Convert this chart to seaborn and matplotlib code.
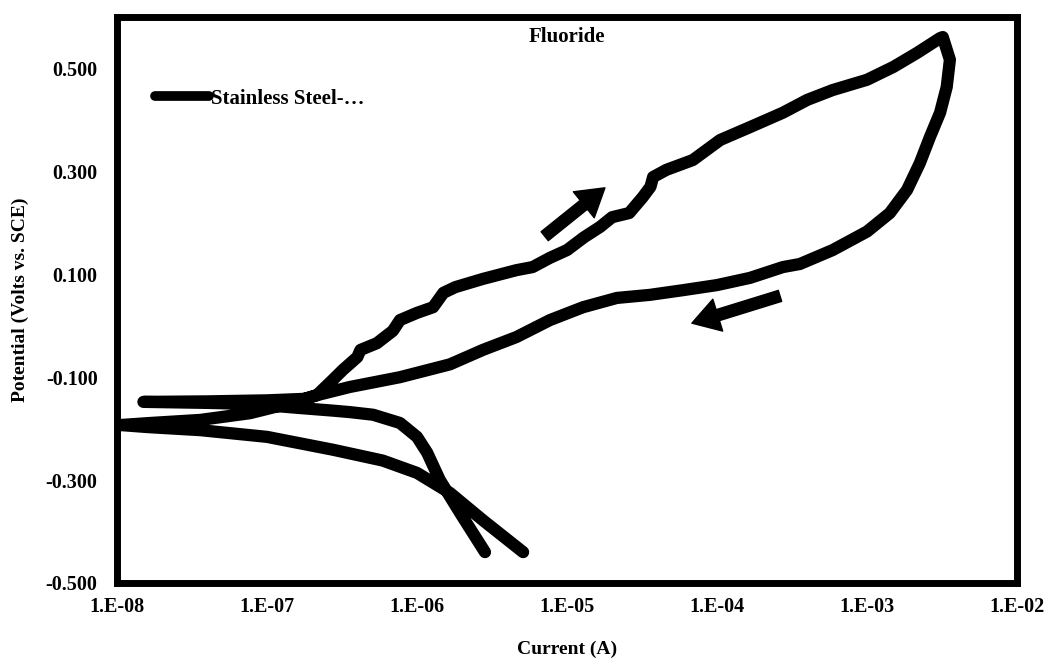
import numpy as np
import pandas as pd
import matplotlib
matplotlib.use("Agg")
import matplotlib.pyplot as plt
from matplotlib.ticker import FixedLocator, FuncFormatter, NullLocator
import seaborn as sns

# ---- data ----
current = [
    # forward scan: cathodic branch
    2.84e-6, 1.94e-6, 1.42e-6, 1.17e-6, 1.0e-6, 7.7e-7, 5.1e-7, 3.6e-7, 2.75e-7, 1.66e-7, 7.7e-8, 4.0e-8, 1.5e-8,
    # forward scan: anodic branch
    4.0e-8, 1.0e-7, 1.8e-7, 2.15e-7, 2.75e-7, 3.2e-7, 4.0e-7, 4.2e-7, 5.4e-7, 6.9e-7, 7.7e-7, 1.0e-6, 1.28e-6,
    1.5e-6, 1.8e-6, 2.75e-6, 4.6e-6, 5.9e-6, 7.7e-6, 1.0e-5, 1.3e-5, 1.66e-5, 2.0e-5, 2.6e-5, 3.2e-5, 3.6e-5,
    3.75e-5, 4.6e-5, 6.9e-5, 1.05e-4, 1.66e-4, 2.75e-4, 4.0e-4, 5.9e-4, 1.0e-3, 1.5e-3, 2.15e-3, 3.07e-3, 3.2e-3,
    # reverse scan
    3.57e-3, 3.4e-3, 3.07e-3, 2.63e-3, 2.25e-3, 1.85e-3, 1.42e-3, 1.0e-3, 5.9e-4, 3.57e-4, 2.75e-4, 1.66e-4,
    1.0e-4, 5.9e-5, 3.57e-5, 2.15e-5, 1.28e-5, 7.7e-6, 4.6e-6, 2.75e-6, 1.66e-6, 7.7e-7, 3.57e-7, 2.15e-7,
    1.28e-7, 7.7e-8, 3.6e-8, 1.66e-8, 1.05e-8,
    # reverse scan: cathodic branch
    1.6e-8, 3.6e-8, 1.0e-7, 2.75e-7, 5.9e-7, 1.0e-6, 1.66e-6, 2.75e-6, 5.1e-6,
]
potential = [
    -0.440, -0.364, -0.300, -0.247, -0.216, -0.189, -0.173, -0.168, -0.165, -0.160, -0.152, -0.150, -0.148,
    -0.147, -0.145, -0.142, -0.135, -0.105, -0.086, -0.061, -0.047, -0.034, -0.010, 0.011, 0.025, 0.036,
    0.064, 0.075, 0.091, 0.108, 0.114, 0.132, 0.147, 0.172, 0.192, 0.211, 0.219, 0.250, 0.270,
    0.289, 0.303, 0.322, 0.361, 0.386, 0.414, 0.439, 0.458, 0.478, 0.503, 0.530, 0.559, 0.561,
    0.517, 0.464, 0.414, 0.367, 0.316, 0.264, 0.219, 0.183, 0.147, 0.120, 0.114, 0.093,
    0.079, 0.069, 0.060, 0.054, 0.036, 0.011, -0.022, -0.047, -0.075, -0.100, -0.119, -0.135,
    -0.154, -0.170, -0.183, -0.189, -0.193,
    -0.197, -0.203, -0.216, -0.241, -0.262, -0.286, -0.325, -0.378, -0.440,
]
series_label = "Stainless Steel-…"
title_text = "Fluoride"
x_ticks = [1e-8, 1e-7, 1e-6, 1e-5, 1e-4, 1e-3, 1e-2]
y_ticks = [-0.5, -0.3, -0.1, 0.1, 0.3, 0.5]
# scan-direction arrows: (tail current, tail potential) -> (head current, head potential)
arrow_tails = [(7.1e-6, 0.174), (2.63e-4, 0.058)]
arrow_heads = [(1.79e-5, 0.268), (6.8e-5, 0.005)]

df = pd.DataFrame({"Current (A)": current, "Potential": potential, "series": series_label})

sns.set_theme(style="white")
plt.rcParams["font.family"] = ["Liberation Serif", "DejaVu Serif"]
plt.rcParams["font.weight"] = "bold"
plt.rcParams["text.color"] = "black"

fig = plt.figure(figsize=(10.47, 6.60), dpi=100)
ax = fig.add_axes([117 / 1047, 1 - 583 / 660, 900 / 1047, 566 / 660])

sns.lineplot(data=df, x="Current (A)", y="Potential", hue="series", palette=["black"],
             sort=False, estimator=None, ax=ax, linewidth=8.8,
             solid_capstyle="round", solid_joinstyle="round")

ax.set_xscale("log")
ax.set_xlim(1e-8, 1e-2)
ax.set_ylim(-0.5, 0.6)
ax.xaxis.set_major_locator(FixedLocator(x_ticks))
ax.xaxis.set_minor_locator(NullLocator())
ax.yaxis.set_major_locator(FixedLocator(y_ticks))
ax.xaxis.set_major_formatter(FuncFormatter(lambda v, p: "1.E-%02d" % abs(int(round(np.log10(v))))))
ax.yaxis.set_major_formatter(FuncFormatter(lambda v, p: "%.3f" % v))

for s in ax.spines.values():
    s.set_visible(True)
    s.set_color("black")
    s.set_linewidth(5)

ax.tick_params(axis="both", which="major", direction="out", length=4, width=2.5,
               color="black", labelsize=14.5, labelcolor="black")
ax.tick_params(axis="y", pad=10)
ax.tick_params(axis="x", pad=6)
for lab in ax.get_xticklabels() + ax.get_yticklabels():
    lab.set_fontweight("bold")

ax.set_xlabel("Current (A)", fontsize=14, fontweight="bold", labelpad=17, color="black")
ax.set_ylabel("Potential (Volts vs. SCE)", fontsize=14, fontweight="bold", labelpad=12, color="black")

ax.text(0.5, 0.983, title_text, transform=ax.transAxes, ha="center", va="top",
        fontsize=15, fontweight="bold", color="black")

for (tx, ty), (hx, hy) in zip(arrow_tails, arrow_heads):
    ax.annotate("", xy=(hx, hy), xytext=(tx, ty),
                arrowprops=dict(arrowstyle="simple,head_length=1.3,head_width=1.6,tail_width=0.55",
                                mutation_scale=15, color="black", shrinkA=0, shrinkB=0))

leg = ax.legend(loc="upper left", bbox_to_anchor=(0.033, 0.888), frameon=False,
                handlelength=2.6, handletextpad=0.1, borderaxespad=0, labelcolor="black",
                prop={"family": ["Liberation Serif", "DejaVu Serif"], "weight": "bold", "size": 15})
for h in leg.get_lines():
    h.set_linewidth(7)
    h.set_solid_capstyle("round")

fig.savefig("out.png", dpi=100, facecolor="white")
